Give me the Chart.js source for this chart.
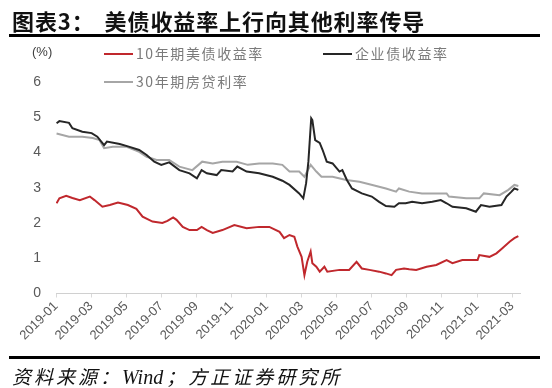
<!DOCTYPE html>
<html>
<head>
<meta charset="utf-8">
<script src="https://cdn.jsdelivr.net/npm/chart.js@4.4.1/dist/chart.umd.min.js"></script>
<style>
  html,body{margin:0;padding:0;background:#fff;}
  #wrap{position:relative;width:552px;height:388px;overflow:hidden;background:#fff;}
  #c{position:absolute;left:0;top:0;}
  .title{position:absolute;left:12px;top:4px;font:bold 22px "Noto Sans CJK SC";color:#111;white-space:nowrap;letter-spacing:0.9px;}
  .title span{margin-left:10px;}
  .rule{position:absolute;left:9px;width:531px;height:3px;background:#000;}
  .unit{position:absolute;left:32px;top:44px;font:13px "Liberation Sans";color:#404040;}
  .lg{position:absolute;font:14px "Noto Sans CJK SC";color:#7a7a7a;letter-spacing:1.6px;white-space:nowrap;}
  .lg i{display:inline-block;width:29px;height:2px;vertical-align:middle;margin-right:3px;position:relative;top:-1px;}
  .src{position:absolute;left:12px;top:362px;font:italic 19px "Noto Sans CJK SC";color:#111;white-space:nowrap;letter-spacing:3px;}
  .src b{font:italic 20px "Liberation Serif";letter-spacing:0;margin-right:3px;}
</style>
</head>
<body>
<div id="wrap">
  <canvas id="c" width="552" height="388"></canvas>
  <div class="title">图表3：<span>美债收益率上行向其他利率传导</span></div>
  <div class="rule" style="top:34px"></div>
  <div class="unit">(%)</div>
  <div class="lg" style="left:104px;top:43px"><i style="background:#c0282d"></i>10年期美债收益率</div>
  <div class="lg" style="left:323px;top:43px"><i style="background:#262626"></i>企业债收益率</div>
  <div class="lg" style="left:104px;top:71px"><i style="background:#a6a6a6"></i>30年期房贷利率</div>
  <div class="rule" style="top:356px"></div>
  <div class="src">资料来源：<b>Wind</b>；方正证券研究所</div>
</div>
<script>
// 数据
const tickLabels=["2019-01","2019-03","2019-05","2019-07","2019-09","2019-11","2020-01","2020-03","2020-05","2020-07","2020-09","2020-11","2021-01","2021-03"];
const seriesNames=["10年期美债收益率","企业债收益率","30年期房贷利率"];

const usDates=["2019-01-02","2019-01-07","2019-01-19","2019-01-30","2019-02-11","2019-02-27","2019-03-07","2019-03-21","2019-04-03","2019-04-17","2019-05-04","2019-05-19","2019-05-30","2019-06-16","2019-07-03","2019-07-12","2019-07-22","2019-07-28","2019-08-08","2019-08-20","2019-09-02","2019-09-10","2019-09-19","2019-09-29","2019-10-16","2019-11-06","2019-11-27","2019-12-19","2020-01-06","2020-01-24","2020-02-01","2020-02-10","2020-02-18","2020-02-23","2020-03-01","2020-03-06","2020-03-11","2020-03-17","2020-03-20","2020-03-27","2020-04-02","2020-04-10","2020-04-15","2020-05-06","2020-05-23","2020-06-05","2020-06-14","2020-06-27","2020-07-14","2020-07-26","2020-08-05","2020-08-13","2020-08-27","2020-09-05","2020-09-17","2020-10-05","2020-10-22","2020-11-09","2020-11-19","2020-12-06","2021-01-02","2021-01-05","2021-01-23","2021-02-04","2021-02-13","2021-02-25","2021-03-05","2021-03-12"];
const usYield=[2.56,2.70,2.77,2.71,2.65,2.75,2.65,2.46,2.51,2.58,2.51,2.40,2.18,2.04,2.00,2.06,2.16,2.09,1.89,1.80,1.80,1.89,1.80,1.72,1.80,1.94,1.85,1.89,1.89,1.75,1.57,1.66,1.61,1.33,1.04,0.52,0.90,1.19,0.86,0.76,0.62,0.76,0.62,0.67,0.67,0.90,0.71,0.67,0.62,0.57,0.52,0.67,0.71,0.69,0.67,0.76,0.81,0.95,0.86,0.95,0.95,1.09,1.04,1.14,1.28,1.47,1.57,1.63];

const corpDates=["2019-01-02","2019-01-07","2019-01-24","2019-01-30","2019-02-15","2019-03-02","2019-03-12","2019-03-24","2019-03-29","2019-04-20","2019-05-07","2019-05-24","2019-06-06","2019-06-19","2019-07-01","2019-07-15","2019-08-02","2019-08-20","2019-09-02","2019-09-10","2019-09-19","2019-10-06","2019-10-14","2019-11-03","2019-11-11","2019-11-27","2019-12-19","2020-01-12","2020-01-29","2020-02-10","2020-02-26","2020-03-04","2020-03-09","2020-03-13","2020-03-18","2020-03-20","2020-03-25","2020-04-02","2020-04-07","2020-04-14","2020-04-24","2020-05-06","2020-05-11","2020-05-19","2020-05-28","2020-06-14","2020-07-01","2020-07-14","2020-07-26","2020-08-10","2020-08-18","2020-08-30","2020-09-10","2020-09-27","2020-10-15","2020-10-30","2020-11-09","2020-11-19","2020-12-13","2020-12-30","2021-01-08","2021-01-23","2021-02-12","2021-02-20","2021-02-28","2021-03-05","2021-03-12"];
const corpYield=[4.83,4.89,4.84,4.69,4.59,4.55,4.45,4.21,4.31,4.24,4.16,4.07,3.93,3.74,3.65,3.72,3.50,3.41,3.27,3.50,3.41,3.36,3.50,3.46,3.60,3.46,3.41,3.31,3.20,3.08,2.84,2.70,3.13,3.74,4.97,4.92,4.35,4.27,4.07,3.74,3.69,3.46,3.50,3.22,2.98,2.84,2.75,2.60,2.48,2.46,2.56,2.56,2.60,2.56,2.60,2.65,2.56,2.46,2.42,2.32,2.51,2.46,2.51,2.75,2.89,2.98,2.94];

const mortDates=["2019-01-02","2019-01-24","2019-02-15","2019-03-04","2019-03-16","2019-03-24","2019-04-08","2019-05-02","2019-05-24","2019-06-06","2019-06-23","2019-07-15","2019-08-02","2019-08-25","2019-09-11","2019-09-29","2019-10-16","2019-11-10","2019-11-29","2019-12-19","2020-01-12","2020-01-29","2020-02-10","2020-02-26","2020-03-06","2020-03-17","2020-03-27","2020-04-05","2020-04-24","2020-05-18","2020-06-10","2020-07-02","2020-07-26","2020-08-13","2020-08-18","2020-09-05","2020-09-27","2020-10-22","2020-11-09","2020-11-13","2020-12-13","2021-01-05","2021-01-13","2021-02-09","2021-02-23","2021-03-05","2021-03-12"];
const mortRate=[4.54,4.45,4.45,4.41,4.35,4.12,4.16,4.16,4.02,3.88,3.79,3.79,3.60,3.50,3.74,3.69,3.74,3.74,3.65,3.69,3.69,3.65,3.46,3.46,3.31,3.65,3.46,3.31,3.31,3.22,3.17,3.08,2.98,2.89,2.98,2.89,2.84,2.84,2.84,2.75,2.70,2.70,2.84,2.79,2.94,3.08,3.05];

// 日期 -> 自2019-01起的月份位置
function monthPos(s){
  const [y,m,d]=s.split("-").map(Number);
  const dim=new Date(y,m,0).getDate();
  return (y-2019)*12+(m-1)+(d-1)/dim;
}
function pts(dates,vals){ return dates.map((d,i)=>({x:monthPos(d),y:vals[i]})); }

const ctx=document.getElementById("c").getContext("2d");
new Chart(ctx,{
  type:'line',
  data:{datasets:[
    {label:seriesNames[0],data:pts(usDates,usYield),borderColor:'#c0282d',borderWidth:2,pointRadius:0,tension:0},
    {label:seriesNames[1],data:pts(corpDates,corpYield),borderColor:'#262626',borderWidth:2,pointRadius:0,tension:0},
    {label:seriesNames[2],data:pts(mortDates,mortRate),borderColor:'#a6a6a6',borderWidth:2,pointRadius:0,tension:0}
  ]},
  options:{
    responsive:false,animation:false,
    layout:{padding:{top:82,right:32,left:0,bottom:0}},
    plugins:{legend:{display:false},tooltip:{enabled:false}},
    scales:{
      x:{type:'linear',min:0,max:26.45,
        afterBuildTicks:s=>{ s.ticks=tickLabels.map((_,i)=>({value:i*2})); },
        afterFit:s=>{ s.height=94.5; },
        ticks:{autoSkip:false,minRotation:45,maxRotation:45,padding:1,color:'#595959',font:{family:'Liberation Sans',size:13},
          callback:v=>tickLabels[Math.round(v/2)]},
        grid:{drawOnChartArea:false,drawTicks:true,tickLength:4,color:'#d9d9d9'},
        border:{color:'#d0d0d0',dash:[2,1]}
      },
      y:{min:0,max:6,
        afterFit:s=>{ s.width=56; },
        ticks:{stepSize:1,padding:15,color:'#595959',font:{family:'Liberation Sans',size:14}},
        grid:{display:false,drawTicks:false},
        border:{display:false}
      }
    }
  }
});
</script>
</body>
</html>
